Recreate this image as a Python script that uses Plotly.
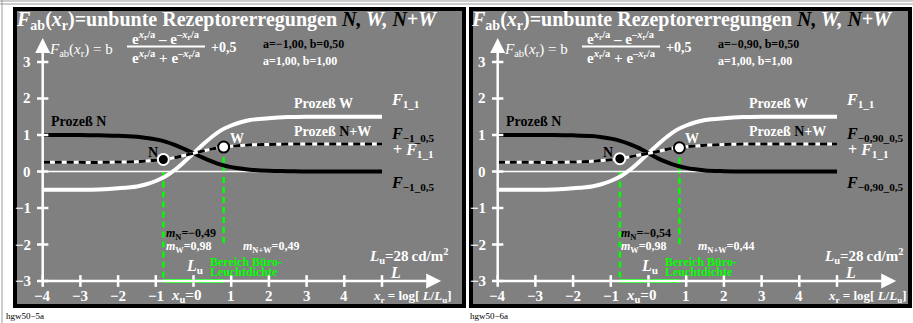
import plotly.graph_objects as go

W, H = 913, 323
SERIF = "Liberation Serif, Times New Roman, serif"
GRAY = "#808080"
GREEN = "#00ff00"

# sample positions along x_r and the curve values
x_grid = [-4, -3.5, -3, -2.5, -2, -1.5, -1.25, -1, -0.75, -0.5, -0.25, 0,
          0.25, 0.5, 0.75, 1, 1.25, 1.5, 2, 2.5, 3, 3.5, 4, 4.5, 5]
w_proc = [-0.50, -0.50, -0.50, -0.49, -0.46, -0.41, -0.35, -0.26, -0.14, 0.04, 0.26, 0.50,
          0.74, 0.96, 1.14, 1.26, 1.35, 1.41, 1.46, 1.49, 1.50, 1.50, 1.50, 1.50, 1.50]
n_proc_5a = [1.00, 1.00, 1.00, 0.99, 0.98, 0.95, 0.92, 0.88, 0.82, 0.73, 0.62, 0.50,
             0.38, 0.27, 0.18, 0.12, 0.08, 0.05, 0.02, 0.01, 0.00, 0.00, 0.00, 0.00, 0.00]
nw_proc_5a = [0.25, 0.25, 0.25, 0.25, 0.26, 0.27, 0.29, 0.31, 0.34, 0.38, 0.44, 0.50,
              0.56, 0.62, 0.66, 0.69, 0.71, 0.73, 0.74, 0.75, 0.75, 0.75, 0.75, 0.75, 0.75]
n_proc_6a = [1.00, 1.00, 1.00, 1.00, 0.99, 0.97, 0.94, 0.90, 0.84, 0.75, 0.64, 0.50,
             0.36, 0.25, 0.16, 0.10, 0.06, 0.03, 0.01, 0.00, 0.00, 0.00, 0.00, 0.00, 0.00]
nw_proc_6a = [0.25, 0.25, 0.25, 0.25, 0.26, 0.28, 0.30, 0.32, 0.35, 0.40, 0.45, 0.50,
              0.55, 0.61, 0.65, 0.68, 0.70, 0.72, 0.74, 0.75, 0.75, 0.75, 0.75, 0.75, 0.75]

# N and W points on the N+W curve
point_x_5a = [-0.80, 0.80]
point_y_5a = [0.33, 0.67]
point_x_6a = [-0.76, 0.82]
point_y_6a = [0.35, 0.65]

x_ticks = [-4, -3, -2, -1, 0, 1, 2, 3, 4, 5]
x_tick_labels = ["−4", "−3", "−2", "−1", "", "1", "2", "3", "4", ""]
y_ticks = [-3, -2, -1, 0, 1, 2, 3]
y_tick_labels = ["−3", "−2", "−1", "0", "1", "2", "3"]

a_labels = ["a=−1,00, b=0,50", "a=−0,90, b=0,50"]
f_n_subs = ["−1_0,5", "−0,90_0,5"]
m_n_vals = ["−0,49", "−0,54"]
m_w_vals = ["0,98", "0,98"]
m_nw_vals = ["0,49", "0,44"]
codes = ["hgw50−5a", "hgw50−6a"]

panels = [
    dict(n=n_proc_5a, nw=nw_proc_5a, px=point_x_5a, py=point_y_5a),
    dict(n=n_proc_6a, nw=nw_proc_6a, px=point_x_6a, py=point_y_6a),
]

# pixel geometry of the reference
PX_X, PX_Y = 37.7, 36.5
ORIGIN_X, ORIGIN_Y = 193.5, 171.5
SHIFT = 455
GRAY_TOP, GRAY_BOTTOM = 9, 306
gray_x = [(15, 464), (471, 910)]

fig = go.Figure()


def note(px, py, text, size=13, color="white", anchor="left", family=SERIF):
    fig.add_annotation(x=px / W, y=1 - py / H, xref="paper", yref="paper",
                       text=text, showarrow=False, xanchor=anchor, yanchor="middle",
                       font=dict(family=family, size=size, color=color))


def blk(s):
    return f"<span style='color:black'>{s}</span>"


for i, p in enumerate(panels):
    sfx = "" if i == 0 else "2"
    xa, ya = "x" + sfx, "y" + sfx
    off = i * SHIFT
    x0p, x1p = gray_x[i]
    ox = ORIGIN_X + off
    fig.update_layout({
        "xaxis" + sfx: dict(domain=[x0p / W, x1p / W],
                            range=[(x0p - ox) / PX_X, (x1p - ox) / PX_X],
                            visible=False, anchor=ya),
        "yaxis" + sfx: dict(domain=[1 - GRAY_BOTTOM / H, 1 - GRAY_TOP / H],
                            range=[(ORIGIN_Y - GRAY_BOTTOM) / PX_Y, (ORIGIN_Y - GRAY_TOP) / PX_Y],
                            visible=False, anchor=xa),
    })

    x_lo, y_lo = x_ticks[0], y_ticks[0]

    # green guide lines (the W one stops at the -2 level)
    fig.add_trace(go.Scatter(x=[p["px"][0], p["px"][0]], y=[0, y_lo], mode="lines",
                             line=dict(color=GREEN, width=2.5, dash="6px,4px"),
                             xaxis=xa, yaxis=ya, hoverinfo="skip"))
    fig.add_trace(go.Scatter(x=[p["px"][1], p["px"][1]], y=[p["py"][1], y_ticks[1]], mode="lines",
                             line=dict(color=GREEN, width=2.5, dash="6px,4px"),
                             xaxis=xa, yaxis=ya, hoverinfo="skip"))
    fig.add_trace(go.Scatter(x=p["px"], y=[y_lo, y_lo], mode="lines",
                             line=dict(color=GREEN, width=4),
                             xaxis=xa, yaxis=ya, hoverinfo="skip"))

    # zero line
    fig.add_trace(go.Scatter(x=[x_lo, x_ticks[-1]], y=[0, 0], mode="lines",
                             line=dict(color="white", width=1.5),
                             xaxis=xa, yaxis=ya, hoverinfo="skip"))

    # curves
    fig.add_trace(go.Scatter(x=x_grid, y=w_proc, mode="lines", line_shape="spline",
                             line=dict(color="white", width=4), xaxis=xa, yaxis=ya))
    fig.add_trace(go.Scatter(x=x_grid, y=p["n"], mode="lines", line_shape="spline",
                             line=dict(color="black", width=4), xaxis=xa, yaxis=ya))
    fig.add_trace(go.Scatter(x=x_grid, y=p["nw"], mode="lines", line_shape="spline",
                             line=dict(color="white", width=3), xaxis=xa, yaxis=ya))
    fig.add_trace(go.Scatter(x=x_grid, y=p["nw"], mode="lines", line_shape="spline",
                             line=dict(color="black", width=3, dash="7px,5px"),
                             xaxis=xa, yaxis=ya))

    # N and W points
    fig.add_trace(go.Scatter(x=p["px"], y=p["py"], mode="markers",
                             marker=dict(size=11, color=["black", "white"],
                                         line=dict(color=["white", "black"], width=2)),
                             xaxis=xa, yaxis=ya))

    # axes with arrows
    fig.add_annotation(x=x_lo, y=3.66, ax=x_lo, ay=y_lo, xref=xa, yref=ya, axref=xa, ayref=ya,
                       text="", showarrow=True, arrowhead=2, arrowsize=1.2, arrowwidth=2.5,
                       arrowcolor="white")
    fig.add_annotation(x=6.57, y=y_lo, ax=x_lo, ay=y_lo, xref=xa, yref=ya, axref=xa, ayref=ya,
                       text="", showarrow=True, arrowhead=2, arrowsize=1.2, arrowwidth=2.5,
                       arrowcolor="white")
    for t in y_ticks:
        fig.add_shape(type="line", xref=xa, yref=ya, x0=x_lo - 0.15, x1=x_lo + 0.15, y0=t, y1=t,
                      line=dict(color="white", width=2.5))
    for t in x_ticks:
        fig.add_shape(type="line", xref=xa, yref=ya, x0=t, x1=t, y0=y_lo - 0.16, y1=y_lo + 0.16,
                      line=dict(color="white", width=2.5))

    # tick labels
    for t, lab in zip(y_ticks, y_tick_labels):
        note(33 + off, ORIGIN_Y - t * PX_Y, f"<b>{lab}</b>", size=15, anchor="right")
    for t, lab in zip(x_ticks, x_tick_labels):
        if lab:
            note(ox + t * PX_X, 296, f"<b>{lab}</b>", size=15, anchor="center")
    note(ox - 8, 296, "<b><i>x</i><sub>u</sub>=0</b>", size=15, anchor="center")
    note(371 + off, 296, "<b><i>x</i><sub>r</sub> = log[ <i>L</i>/<i>L</i><sub>u</sub>]</b>", size=13)

    # frame
    fig.add_shape(type="rect", xref=xa + " domain", yref=ya + " domain", x0=0, x1=1, y0=0, y1=1,
                  line=dict(color="black", width=4))

    # title and formula
    note(14 + off, 20,
         "<b><i>F</i><sub>ab</sub>(<i>x</i><sub>r</sub>)=unbunte Rezeptorerregungen "
         f"<i>{blk('N,')} W, {blk('N')}+W</i></b>", size=20)
    note(47 + off, 50, "<i>F</i><sub>ab</sub>(<i>x</i><sub>r</sub>) = b", size=15)
    note(166 + off, 38, "<b>e<sup><i>x</i><sub>r</sub>/a</sup> – e<sup>–<i>x</i><sub>r</sub>/a</sup></b>",
         size=15, anchor="center")
    note(166 + off, 57, "<b>e<sup><i>x</i><sub>r</sub>/a</sup> + e<sup>–<i>x</i><sub>r</sub>/a</sup></b>",
         size=15, anchor="center")
    fig.add_shape(type="line", xref="paper", yref="paper", x0=(127 + off) / W, x1=(205 + off) / W,
                  y0=1 - 46.5 / H, y1=1 - 46.5 / H, line=dict(color="white", width=2))
    note(209 + off, 47, "<b>+0,5</b>", size=14)
    note(261 + off, 44, f"<b>{a_labels[i]}</b>", size=12, color="black")
    note(261 + off, 61, "<b>a=1,00, b=1,00</b>", size=12)

    # curve labels
    note(292 + off, 103, "<b>Prozeß W</b>", size=14)
    note(389 + off, 100, "<b><i>F</i><sub>1_1</sub></b>", size=16)
    note(49 + off, 122, "<b>Prozeß N</b>", size=14, color="black")
    note(292 + off, 131, f"<b>Prozeß {blk('N')}+W</b>", size=14)
    note(389 + off, 134, f"<b><i>F</i><sub>{f_n_subs[i]}</sub></b>", size=16, color="black")
    note(391 + off, 150, "<b>+ <i>F</i><sub>1_1</sub></b>", size=16)
    note(389 + off, 183, f"<b><i>F</i><sub>{f_n_subs[i]}</sub></b>", size=16, color="black")
    note(146 + off, 152, "<b>N</b>", size=14, color="black")
    note(228 + off, 138, "<b>W</b>", size=14)

    # slopes and luminance labels
    note(164 + off, 234, f"<b><i>m</i><sub>N</sub>={m_n_vals[i]}</b>", size=12, color="black")
    note(164 + off, 247, f"<b><i>m</i><sub>W</sub>={m_w_vals[i]}</b>", size=12)
    note(241 + off, 247, f"<b><i>m</i><sub>N+W</sub>={m_nw_vals[i]}</b>", size=12)
    note(184 + off, 266, "<b><i>L</i><sub>u</sub></b>", size=16)
    note(208 + off, 262, "<b>Bereich Büro-</b>", size=12, color=GREEN)
    note(208 + off, 272, "<b>Leuchtdichte</b>", size=12, color=GREEN)
    note(367 + off, 256, "<b><i>L</i><sub>u</sub>=28\u2009cd/m<sup>2</sup></b>", size=15)
    note(388 + off, 272, "<b><i>L</i></b>", size=16)

    note(4 + (468 - 4) * i, 316, codes[i], size=9, color="black")

# thin outer page lines
for yy in (1, 4):
    fig.add_shape(type="line", xref="paper", yref="paper", x0=0, x1=1, y0=1 - yy / H, y1=1 - yy / H,
                  line=dict(color="#9a9a9a", width=1))
fig.add_shape(type="line", xref="paper", yref="paper", x0=2 / W, x1=2 / W, y0=0, y1=1,
              line=dict(color="#9a9a9a", width=1))

fig.update_layout(
    width=W, height=H,
    margin=dict(l=0, r=0, t=0, b=0),
    paper_bgcolor="white",
    plot_bgcolor=GRAY,
    showlegend=False,
    hovermode=False,
)

fig.write_html("out.html", config={"displayModeBar": False},
               post_script="document.body.style.margin='0';document.body.style.overflow='hidden';")
